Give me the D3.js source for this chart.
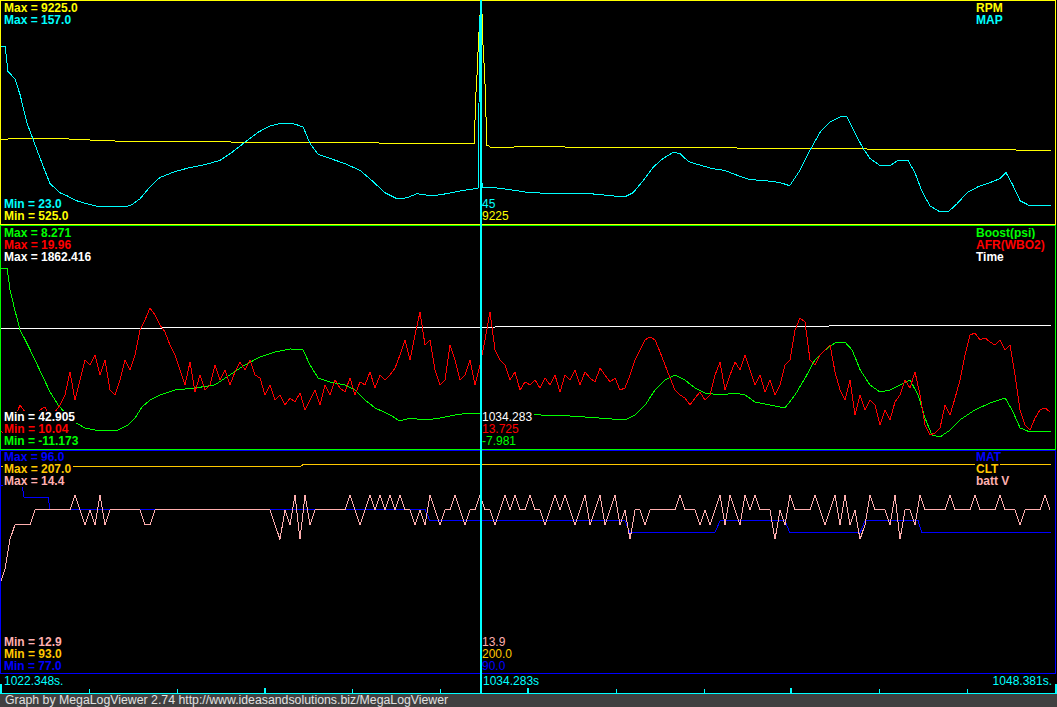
<!DOCTYPE html>
<html><head><meta charset="utf-8">
<script src="https://cdn.jsdelivr.net/npm/d3@7"></script>
<style>
body{margin:0;background:#000;}
svg{display:block;}
text{font-family:"Liberation Sans",Arial,sans-serif;font-size:12px;}
</style>
</head><body>
<svg id="c" width="1057" height="707"></svg>
<script>
// ---------------- DATA ----------------
const timeDomain = [1022.348, 1048.381];
const cursorTime = 1034.204;
const cursorLabel = "1034.283s";
const axisLabels = ["1022.348s.", "1048.381s."];

// uniform-rate channels (AFR, batt V) sample start & period
const gridT0 = 1022.323, gridDt = 0.1235;

const rpmTime = [1022.35,1022.52,1022.53,1024.00,1024.05,1024.50,1024.55,1025.12,1025.17,1027.26,1028.75,1030.72,1032.70,1034.04,
  1034.07,1034.11,1034.14,1034.18,1034.24,1034.25,1034.29,1034.32,1034.34,1034.38,1034.43,1035.41,1037.64,1039.61,1042.08,1044.55,1047.02,1048.28];
const rpmVals = [3807,3807,3835,3835,3807,3807,3768,3768,3728,3710,3689,3670,3649,3649,
  5349,6457,7603,8711,8711,7603,6457,5349,3570,3570,3491,3511,3491,3471,3451,3412,3392,3372];

const mapTime = [1022.35,1022.45,1022.52,1022.62,1022.69,1022.82,1022.99,1023.24,1023.43,1023.56,1023.80,1023.98,1024.22,1024.47,1024.79,1025.41,1025.58,1025.78,1026.03,1026.27,1026.65,1027.02,1027.39,1027.76,1028.05,1028.37,1028.70,1028.99,1029.29,1029.61,1029.81,1029.98,1030.18,1030.47,1030.84,1031.22,1031.51,1031.83,1032.13,1032.38,1032.62,1032.99,1033.36,1033.73,1034.06,1034.13,1034.18,1034.23,1034.55,1034.92,1035.41,1036.16,1036.90,1037.44,1037.76,1037.96,1038.21,1038.45,1038.70,1038.95,1039.12,1039.32,1039.56,1039.91,1040.23,1040.55,1040.85,1041.22,1041.59,1041.83,1042.08,1042.33,1042.58,1042.82,1043.07,1043.24,1043.44,1043.64,1043.81,1044.06,1044.31,1044.50,1044.75,1044.92,1045.09,1045.29,1045.54,1045.74,1045.96,1046.21,1046.48,1046.78,1047.02,1047.17,1047.32,1047.52,1047.76,1048.28];
const mapVals = [129.6,129.6,114.4,111.9,110.1,100.4,83.3,66.9,54.7,46.8,41.3,39.4,36.4,34.6,32.7,32.7,34.0,37.6,44.9,50.4,54.1,56.5,58.3,60.8,65.6,71.7,77.8,81.5,83.3,82.7,80.9,71.1,64.4,62.0,58.9,54.7,48.6,41.3,37.6,38.2,40.7,39.4,40.7,42.5,43.7,43.7,149.1,44.3,44.3,43.1,41.3,40.7,40.7,39.4,38.8,41.3,48.6,56.5,62.0,65.6,65.0,60.2,58.3,55.9,54.7,51.6,49.2,48.6,47.4,45.5,54.7,66.9,77.8,83.9,87.0,87.0,77.2,68.1,62.0,57.7,57.7,60.8,60.8,53.5,42.5,33.4,29.7,29.7,34.6,41.3,44.9,47.4,49.8,53.5,46.8,36.4,33.4,33.4];

const boostTime = [1022.35,1022.50,1022.57,1022.69,1022.82,1023.01,1023.19,1023.36,1023.56,1023.76,1023.98,1024.17,1024.42,1024.79,1025.24,1025.48,1025.66,1025.83,1026.03,1026.27,1026.65,1027.14,1027.63,1028.00,1028.37,1028.75,1029.12,1029.49,1029.81,1029.98,1030.18,1030.47,1030.84,1031.09,1031.34,1031.59,1031.96,1032.20,1032.45,1032.82,1033.19,1033.56,1033.93,1034.43,1034.92,1035.66,1036.40,1037.14,1037.76,1038.01,1038.26,1038.50,1038.75,1039.00,1039.24,1039.49,1039.74,1040.11,1040.48,1040.73,1040.97,1041.34,1041.71,1041.96,1042.21,1042.45,1042.70,1042.95,1043.19,1043.37,1043.57,1043.81,1044.06,1044.31,1044.55,1044.80,1045.00,1045.17,1045.34,1045.54,1045.79,1046.03,1046.40,1046.78,1047.15,1047.32,1047.52,1047.76,1048.28];
const boostVals = [4.59,4.59,2.67,0.91,-0.84,-2.15,-3.47,-4.78,-6.27,-7.41,-8.28,-8.90,-9.42,-9.68,-9.60,-9.16,-8.55,-7.58,-6.97,-6.53,-6.09,-5.92,-5.65,-4.78,-3.90,-3.20,-2.76,-2.50,-2.59,-3.90,-5.04,-5.39,-5.65,-6.09,-6.97,-7.67,-8.28,-8.81,-8.55,-8.72,-8.55,-8.28,-8.11,-8.11,-8.11,-8.28,-8.37,-8.55,-8.72,-8.28,-7.41,-6.09,-5.22,-4.78,-5.22,-5.92,-6.36,-6.53,-6.36,-6.53,-7.14,-7.41,-7.67,-6.53,-5.04,-3.47,-2.59,-1.97,-1.89,-2.59,-4.34,-5.65,-6.27,-6.09,-5.65,-5.22,-6.53,-8.55,-10.03,-10.21,-9.60,-8.72,-7.84,-7.23,-6.79,-7.84,-9.42,-9.77,-9.77];

const afrVals = [10.84,10.62,10.93,11.38,11.96,11.65,11.20,11.02,11.74,11.87,
 11.38,11.65,11.96,12.41,13.44,12.18,13.08,13.97,13.75,14.20,
 13.30,13.97,12.63,12.41,13.08,13.97,13.53,14.20,15.31,15.76,
 16.30,15.98,15.54,15.22,14.64,14.20,13.53,12.86,13.88,12.54,
 13.30,12.63,12.86,13.75,13.08,13.53,12.86,13.44,13.88,13.53,
 13.97,13.30,13.17,12.41,12.86,12.18,12.41,11.96,12.27,12.10,
 12.50,11.74,12.18,12.63,11.96,12.86,12.41,13.08,12.72,12.54,
 13.17,12.41,12.99,12.86,13.44,12.72,13.30,13.08,13.30,13.61,
 14.20,14.87,13.97,15.09,16.12,14.64,14.87,13.53,12.86,13.08,
 14.64,13.97,13.08,13.30,13.97,12.86,13.75,14.87,16.12,14.42,
 13.97,13.75,13.08,13.44,12.63,12.99,12.86,13.08,12.72,13.17,
 12.86,13.30,12.54,13.30,13.08,13.53,12.86,13.44,13.17,12.99,
 13.61,13.30,12.99,13.17,12.63,12.72,13.30,13.97,14.42,14.87,
 15.00,14.87,14.33,13.75,13.17,12.63,12.41,12.27,11.96,12.27,
 12.54,12.18,12.41,13.30,13.88,12.63,13.30,13.88,13.53,14.20,
 13.53,12.86,13.30,12.54,13.08,12.41,12.86,13.75,13.97,15.31,
 15.85,15.67,13.97,13.75,14.20,14.42,14.64,13.44,12.63,12.18,
 13.08,11.51,12.41,11.74,12.18,11.96,11.07,11.74,11.29,12.10,
 12.41,13.08,12.72,13.44,12.41,11.07,10.62,10.71,10.93,11.96,
 11.51,12.27,13.08,14.20,15.09,15.18,14.87,14.96,14.78,14.64,
 14.87,14.42,14.64,13.30,11.74,11.07,10.84,11.38,11.74,11.83,
 11.65];

const logTime = [1022.348, 1048.28];   // "Time" channel

const matTime = [1022.32,1022.87,1022.92,1023.51,1023.56,1032.82,1032.94,1037.76,1037.88,1039.98,1040.11,1041.71,1041.83,1043.57,1043.69,1045.00,1045.09,1048.28];
const matVals = [93,93,92,92,91,91,90,90,89,89,90,90,89,89,90,90,89,89];

const cltTime = [1022.32,1029.73,1029.81,1048.28];
const cltVals = [199,199,200,200];

const battVals = [13.5,13.6,13.8,13.9,13.9,13.9,13.9,14.0,14.0,14.0,
 14.0,14.0,14.0,14.0,14.0,14.1,14.0,13.9,14.0,13.9,
 14.1,13.9,14.0,14.0,14.0,14.0,14.0,14.0,14.0,13.9,
 13.9,14.0,14.0,14.0,14.0,14.0,14.0,14.0,14.0,14.0,
 14.0,14.0,14.0,14.0,14.0,14.0,14.0,14.0,14.0,14.0,
 14.0,14.0,14.0,14.0,14.0,13.9,13.8,14.0,13.9,14.1,
 13.8,14.1,13.9,14.0,14.0,14.0,14.0,14.0,14.0,14.0,
 14.1,14.0,13.9,14.0,14.1,14.0,14.1,14.0,14.1,14.0,
 14.1,14.0,14.0,13.9,14.0,13.9,14.1,14.0,13.9,14.0,
 14.0,14.1,14.0,13.9,14.0,14.0,14.1,14.0,14.0,13.9,
 14.0,14.1,14.0,14.1,14.0,14.0,14.1,14.0,14.0,13.9,
 14.0,14.1,14.0,14.1,14.0,13.9,14.0,14.1,13.9,14.0,
 14.1,13.9,14.0,14.1,13.9,14.0,13.8,14.0,14.0,13.9,
 14.0,14.0,14.0,14.0,14.0,14.0,14.1,14.0,14.0,14.0,
 13.9,14.0,13.9,14.0,14.1,13.9,14.1,14.0,13.9,14.1,
 14.0,14.1,14.0,14.0,14.0,13.8,14.0,13.9,14.1,14.0,
 14.0,14.0,14.0,14.1,14.0,13.9,14.0,14.1,13.9,14.1,
 13.9,14.0,13.8,13.9,14.1,14.0,14.0,14.0,13.9,14.1,
 13.8,14.0,14.0,13.9,14.1,14.0,14.0,14.0,14.0,14.0,
 14.1,14.0,14.0,14.0,14.0,14.1,14.0,14.0,14.0,14.0,
 14.1,14.0,14.0,14.0,13.9,14.0,14.0,14.0,14.0,14.1,
 14.0];

// channel names, scale limits, cursor readouts
const names1 = ["RPM","MAP"], min1 = [525,23], max1 = [9225,157], dec1 = [1,1], read1 = ["9225","45"];
const names2 = ["Boost(psi)","AFR(WBO2)","Time"], min2 = [-11.173,10.04,42.905], max2 = [8.271,19.96,1862.416], dec2 = [3,2,3], read2 = ["-7.981","13.725","1034.283"];
const names3 = ["MAT","CLT","batt V"], min3 = [77,93,12.9], max3 = [96,207,14.4], dec3 = [1,1,1], read3 = ["90.0","200.0","13.9"];
const footerText = "Graph by MegaLogViewer 2.74 http://www.ideasandsolutions.biz/MegaLogViewer";

// ---------------- DRAW ----------------
const grid = arr => arr.map((v,i)=>[gridT0 + i*gridDt, v]);
const zip = (t,v) => t.map((tt,i)=>[tt, v[i]]);

const COL = {Y:"#ffff00",C:"#00ffff",G:"#00ff00",R:"#ff0000",W:"#ffffff",B:"#0000ff",O:"#ffc800",P:"#ffafaf"};

const panels = [
  {y0:0, y1:224, topOff:12, botOff:4, border:COL.Y, names:names1, mins:min1, maxs:max1, dec:dec1, read:read1, colors:[COL.Y,COL.C],
   data:[zip(rpmTime,rpmVals), zip(mapTime,mapVals)], order:[0,1]},
  {y0:225, y1:449, topOff:12, botOff:4, border:COL.G, names:names2, mins:min2, maxs:max2, dec:dec2, read:read2, colors:[COL.G,COL.R,COL.W],
   data:[zip(boostTime,boostVals), grid(afrVals), zip(logTime,logTime)], order:[2,0,1]},
  {y0:450, y1:673, topOff:11, botOff:3, border:COL.B, names:names3, mins:min3, maxs:max3, dec:dec3, read:read3, colors:[COL.B,COL.O,COL.P],
   data:[zip(matTime,matVals), zip(cltTime,cltVals), grid(battVals)], order:[0,1,2]}
];

const svg = d3.select("#c");
svg.append("rect").attr("width",1057).attr("height",707).attr("fill","#000");

const x = d3.scaleLinear().domain(timeDomain).range([1,1055]);

// text with opaque black box behind it
function label(parent, tx, ty, txt, color, bold, anchor){
  const g = parent.append("g");
  const bg = g.append("rect").attr("fill","#000");
  const t = g.append("text").attr("x",tx).attr("y",ty).attr("fill",color).text(txt);
  if(bold) t.attr("font-weight","bold");
  if(anchor) t.attr("text-anchor",anchor);
  const w = t.node().getComputedTextLength();
  const left = anchor==="end" ? tx - w : tx;
  bg.attr("x",Math.floor(left)-1).attr("y",ty-10).attr("width",Math.ceil(w)+2).attr("height",12);
  return g;
}

panels.forEach((p,pi)=>{
  const clipId = "clip"+pi;
  svg.append("clipPath").attr("id",clipId).append("rect")
    .attr("x",1).attr("y",p.y0+1).attr("width",1054).attr("height",p.y1-p.y0-1);
  const g = svg.append("g").attr("clip-path",`url(#${clipId})`);
  p.order.forEach(si=>{
    const y = d3.scaleLinear().domain([p.mins[si], p.maxs[si]]).range([p.y1-1, p.y0+1]);
    const line = d3.line().x(d=>x(d[0])).y(d=>y(d[1]));
    g.append("path").attr("d", line(p.data[si])).attr("fill","none")
      .attr("stroke", p.colors[si]).attr("stroke-width",1).attr("shape-rendering","crispEdges");
  });
  // border
  svg.append("rect").attr("x",0.5).attr("y",p.y0+0.5).attr("width",1055).attr("height",p.y1-p.y0)
    .attr("fill","none").attr("stroke",p.border).attr("stroke-width",1).attr("shape-rendering","crispEdges");
  const n = p.names.length;
  const lg = svg.append("g");
  // max labels + names
  p.names.forEach((nm,i)=>{
    const by = p.y0 + p.topOff + 12*i;
    label(lg, 4, by, "Max = " + p.maxs[i].toFixed(p.dec[i]), p.colors[i], true);
    label(lg, 976, by, nm, p.colors[i], true);
  });
  // min labels (reverse order) + cursor readouts
  for(let k=0;k<n;k++){
    const si = n-1-k;
    const by = p.y1 - p.botOff - 12*(n-1-k);
    label(lg, 4, by, "Min = " + p.mins[si].toFixed(p.dec[si]), p.colors[si], true);
    label(lg, 482, by, p.read[si], p.colors[si], false);
  }
});

// time axis strip
svg.append("rect").attr("x",0).attr("y",693).attr("width",1057).attr("height",1).attr("fill",COL.C);
const nTicks = 12;
d3.range(nTicks+1).forEach(i=>{
  const t = timeDomain[0] + (timeDomain[1]-timeDomain[0])*i/nTicks;
  const xp = Math.round(x(t));
  const end = (i===0||i===nTicks), major = i%3===0;
  const h = end ? 9 : (major ? 5 : 4);
  const w = (end||major) ? 2 : 1;
  svg.append("rect").attr("x", i===nTicks ? xp : xp-(w>1?1:0)).attr("y",693-h).attr("width",w).attr("height",h).attr("fill",COL.C);
});
svg.append("text").attr("x",4).attr("y",685).attr("fill",COL.C).text(axisLabels[0]);
svg.append("text").attr("x",1052).attr("y",685).attr("fill",COL.C).attr("text-anchor","end").text(axisLabels[1]);
svg.append("text").attr("x",483).attr("y",685).attr("fill",COL.C).text(cursorLabel);

// cursor
const cx = Math.round(x(cursorTime));
svg.append("rect").attr("x",cx-1).attr("y",0).attr("width",2).attr("height",694).attr("fill",COL.C);

// footer
svg.append("rect").attr("x",0).attr("y",694).attr("width",1057).attr("height",13).attr("fill","#404040");
svg.append("text").attr("x",5).attr("y",704).attr("fill","#e0e0e0").style("font-size","12.3px").text(footerText);
</script>
</body></html>
